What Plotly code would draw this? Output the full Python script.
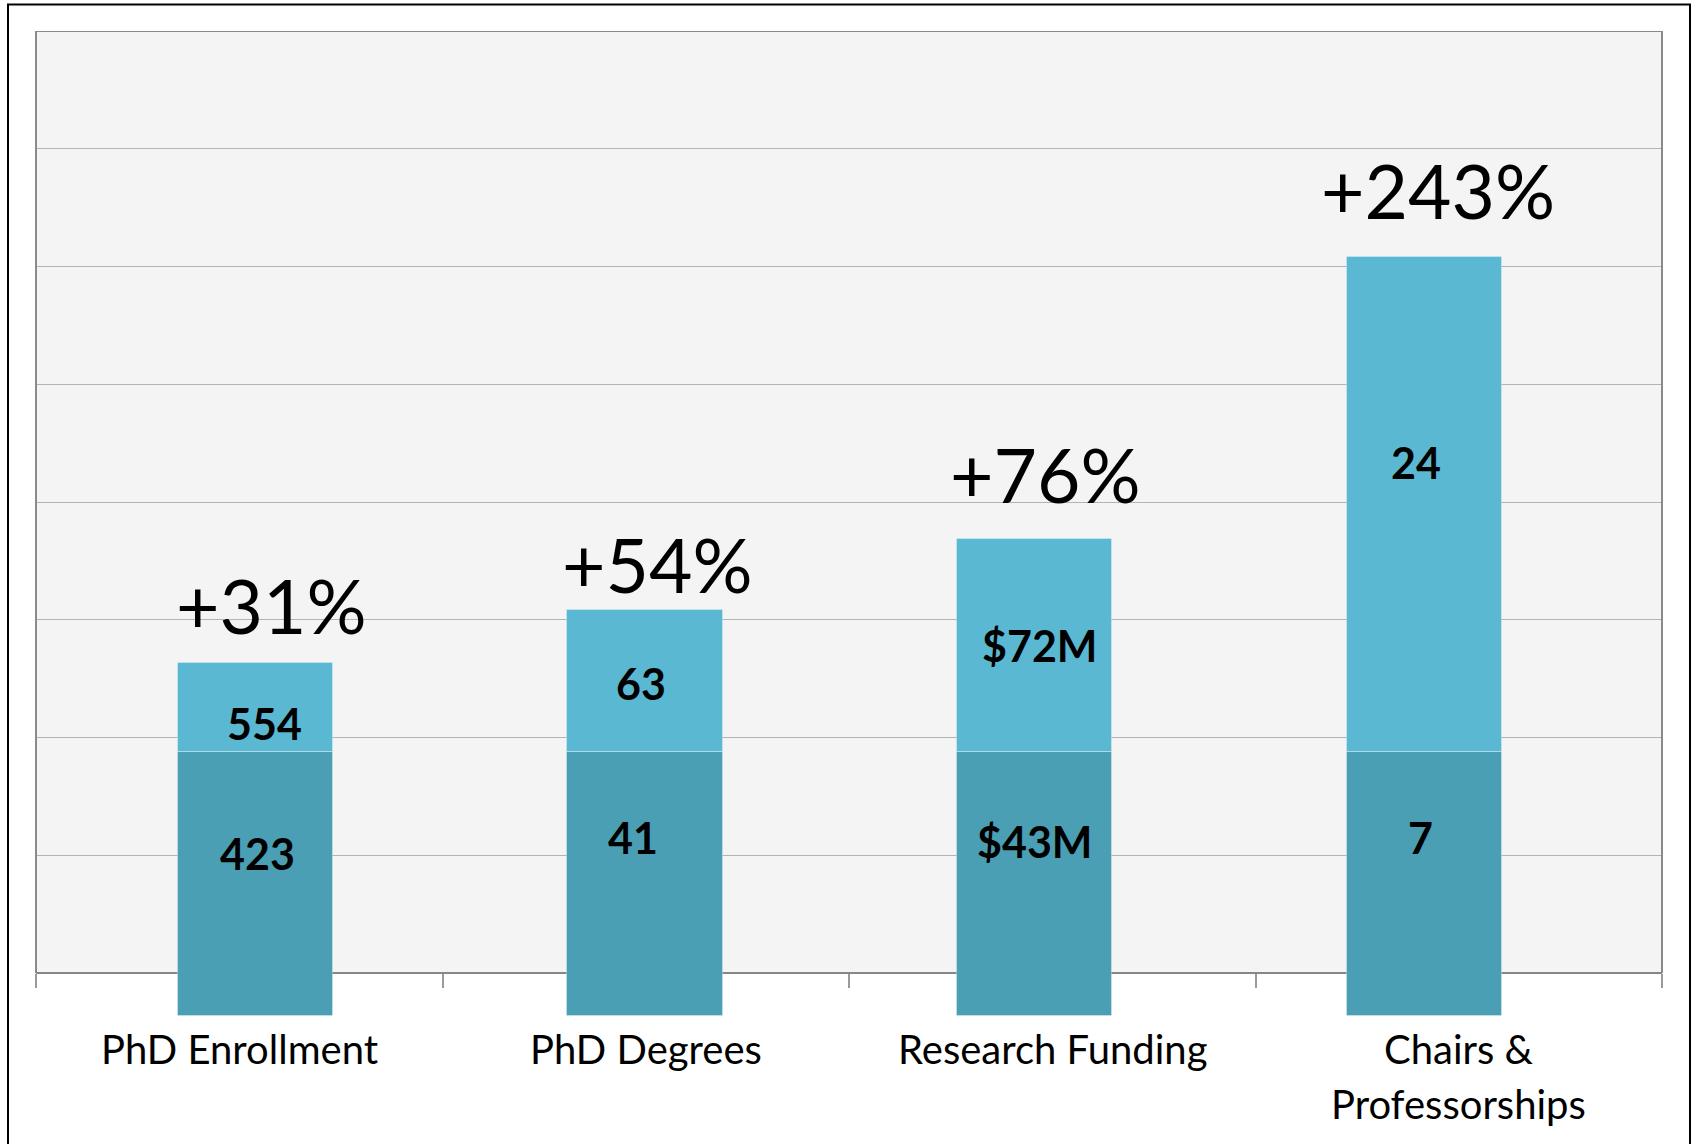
import plotly.graph_objects as go

# ---------------- data ----------------
categories = ["PhD Enrollment", "PhD Degrees", "Research Funding", "Chairs &<br>Professorships"]
baseline_values = [22.46, 22.46, 22.46, 22.46]      # dark segment (before)
increase_values = [7.52, 12.02, 18.05, 42.0]         # light segment (growth)
baseline_labels = ["423", "41", "$43M", "7"]
current_labels = ["554", "63", "$72M", "24"]
growth_labels = ["+31%", "+54%", "+76%", "+243%"]

# ---------------- styling / layout ----------------
W, H = 1692, 1144
M_L, M_R, M_T, M_B = 36, 30, 31, 128
PLOT_W = W - M_L - M_R
PLOT_H = H - M_T - M_B

AXIS_LEVEL = 3.65      # where the category axis line sits
GRID_STEP = 10
N_GRID = 8
Y_MAX = AXIS_LEVEL + GRID_STEP * N_GRID

BAR_WIDTH = 0.3825
BAR_OFFSETS = [-0.1507, -0.1937, -0.2343, -0.2749]

DARK = "#4a9fb4"
LIGHT = "#5bb8d2"
FONT = "Lato"

# label nudges in px (x right, y up)
top_dx = [8.5, -4, 5, -9]
top_dy = [-16.5, -2.5, 0, 42]
bot_dx = [1.5, -11.5, -0.5, -4]
bot_dy = [30, 46.5, 42, 46.5]
pct_dx = [15.5, 12.6, 11, 13]
pct_dy = [58, 46, 65, 66.5]

CAT_LABEL_Y = 1048.5    # px, centre of first text line
CAT_LINE_STEP = 55      # px between lines


def px_x(px):
    return (px - M_L) / PLOT_W


def px_y(py):
    return (H - M_B - py) / PLOT_H


fig = go.Figure()
fig.add_trace(go.Bar(
    x=categories, y=baseline_values, width=BAR_WIDTH, offset=BAR_OFFSETS,
    marker=dict(color=DARK, line=dict(color="rgba(255,255,255,0.3)", width=1)),
    hoverinfo="skip", showlegend=False,
))
fig.add_trace(go.Bar(
    x=categories, y=increase_values, base=baseline_values, width=BAR_WIDTH, offset=BAR_OFFSETS,
    marker=dict(color=LIGHT, line=dict(color="rgba(255,255,255,0.3)", width=1)),
    hoverinfo="skip", showlegend=False,
))

annotations = []
for i in range(len(categories)):
    xc = i + BAR_OFFSETS[i] + BAR_WIDTH / 2
    b = baseline_values[i]
    inc = increase_values[i]
    annotations.append(dict(x=xc, y=b / 2, text=f"<b>{baseline_labels[i]}</b>", showarrow=False,
                            xshift=bot_dx[i], yshift=bot_dy[i], yanchor="middle",
                            font=dict(family=FONT, size=43, color="black")))
    annotations.append(dict(x=xc, y=b + inc / 2, text=f"<b>{current_labels[i]}</b>", showarrow=False,
                            xshift=top_dx[i], yshift=top_dy[i], yanchor="middle",
                            font=dict(family=FONT, size=43, color="black")))
    annotations.append(dict(x=xc, y=b + inc, text=growth_labels[i], showarrow=False,
                            xshift=pct_dx[i], yshift=pct_dy[i], yanchor="middle",
                            font=dict(family=FONT, size=75, color="black")))
    # category label, one annotation per line
    for k, line in enumerate(categories[i].split("<br>")):
        annotations.append(dict(x=i, xref="x", yref="paper", y=px_y(CAT_LABEL_Y + k * CAT_LINE_STEP),
                                text=line, showarrow=False, yanchor="middle", xanchor="center",
                                font=dict(family=FONT, size=40, color="black")))

BORDER = "#8a8a8a"
shapes = [
    dict(type="rect", xref="paper", yref="y", x0=0, x1=1, y0=AXIS_LEVEL, y1=Y_MAX,
         fillcolor="#f4f4f4", line=dict(width=0), layer="below"),
    dict(type="line", xref="paper", yref="y", x0=0, x1=1, y0=Y_MAX, y1=Y_MAX,
         line=dict(color=BORDER, width=2), layer="above"),
    dict(type="line", xref="paper", yref="y", x0=0, x1=0, y0=AXIS_LEVEL, y1=Y_MAX,
         line=dict(color=BORDER, width=2), layer="above"),
    dict(type="line", xref="paper", yref="y", x0=1, x1=1, y0=AXIS_LEVEL, y1=Y_MAX,
         line=dict(color=BORDER, width=2), layer="above"),
    dict(type="rect", xref="paper", yref="paper", x0=px_x(8), x1=px_x(1690), y0=px_y(1160), y1=px_y(4.5),
         line=dict(color="black", width=2), fillcolor="rgba(0,0,0,0)", layer="above"),
]

fig.update_layout(
    width=W, height=H, autosize=False,
    margin=dict(l=M_L, r=M_R, t=M_T, b=M_B, pad=0),
    paper_bgcolor="white", plot_bgcolor="white",
    barmode="overlay", bargap=0,
    font=dict(family=FONT, color="black"),
    annotations=annotations, shapes=shapes,
    xaxis=dict(
        type="category", range=[-0.5, 3.5], anchor="free", position=AXIS_LEVEL / Y_MAX,
        showline=True, linecolor="#878787", linewidth=2,
        ticks="outside", ticklen=14, tickwidth=1.5, tickcolor="#9a9a9a", tickson="boundaries",
        showgrid=False, layer="below traces", showticklabels=False,
    ),
    yaxis=dict(
        range=[0, Y_MAX], showticklabels=False, zeroline=False, showline=False, ticks="",
        tickmode="array", tickvals=[AXIS_LEVEL + GRID_STEP * k for k in range(1, N_GRID)],
        showgrid=True, gridcolor="#b3b3b3", gridwidth=1.2,
    ),
)

fig.write_html("out.html", config={"displayModeBar": False},
               post_script="document.body.style.margin='0';document.body.style.overflow='hidden';")
